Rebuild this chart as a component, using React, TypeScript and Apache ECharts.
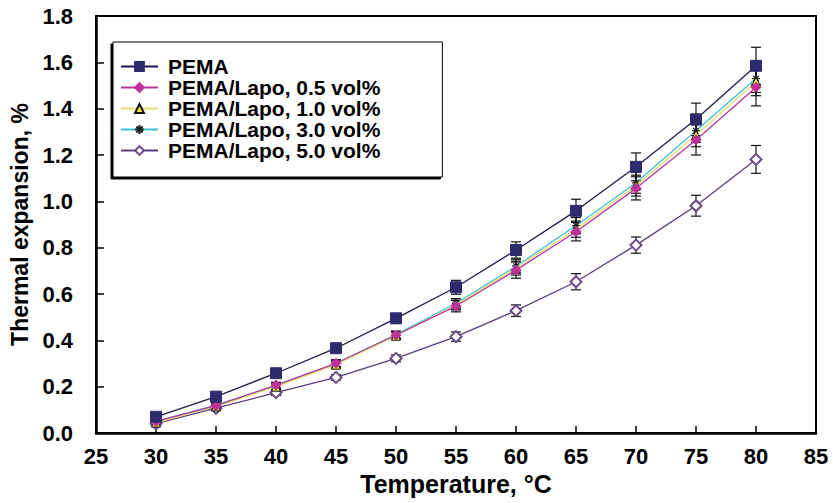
import React, { useEffect, useRef } from "react";
import * as echarts from "echarts";

const temps = [30, 35, 40, 45, 50, 55, 60, 65, 70, 75, 80];

const pema = [0.07, 0.157, 0.258, 0.366, 0.495, 0.629, 0.79, 0.959, 1.149, 1.354, 1.585];
const lapo05 = [0.05, 0.118, 0.207, 0.301, 0.423, 0.548, 0.703, 0.869, 1.056, 1.265, 1.492];
const lapo10 = [0.045, 0.115, 0.2, 0.295, 0.42, 0.552, 0.712, 0.88, 1.068, 1.286, 1.516];
const lapo30 = [0.05, 0.12, 0.205, 0.3, 0.425, 0.56, 0.72, 0.895, 1.08, 1.305, 1.53];
const lapo50 = [0.04, 0.107, 0.174, 0.24, 0.322, 0.416, 0.528, 0.653, 0.811, 0.981, 1.181];

const errPema = [0.01, 0.012, 0.015, 0.015, 0.02, 0.03, 0.035, 0.05, 0.06, 0.07, 0.08];
const err05 = [0.01, 0.01, 0.012, 0.015, 0.015, 0.025, 0.035, 0.04, 0.05, 0.065, 0.08];
const err10 = [0.008, 0.01, 0.012, 0.015, 0.015, 0.02, 0.03, 0.035, 0.045, 0.05, 0.06];
const err30 = [0.008, 0.01, 0.012, 0.015, 0.015, 0.02, 0.03, 0.035, 0.045, 0.05, 0.06];
const err50 = [0.008, 0.01, 0.012, 0.012, 0.015, 0.02, 0.025, 0.035, 0.035, 0.045, 0.06];

const seriesNames = [
  "PEMA",
  "PEMA/Lapo, 0.5 vol%",
  "PEMA/Lapo, 1.0 vol%",
  "PEMA/Lapo, 3.0 vol%",
  "PEMA/Lapo, 5.0 vol%",
];

const xTicks = [25, 85, 5];
const yTicks = [0, 1.8, 0.2];

const FONT = "'Liberation Sans', Arial, Helvetica, sans-serif";
const ASTERISK = "path://M5,0L5,10M0,5L10,5M1.5,1.5L8.5,8.5M8.5,1.5L1.5,8.5";

export default function App() {
  const ref = useRef<HTMLDivElement>(null);
  useEffect(() => {
    if (!ref.current) return;
    const chart = echarts.init(ref.current, null, { renderer: "svg" });

    const values = [pema, lapo05, lapo10, lapo30, lapo50];
    const errs = [errPema, err05, err10, err30, err50];
    const lineColors = ["#1d1a48", "#b4379f", "#e6df6a", "#3fc3d3", "#5b3f7d"];
    const symbols = ["rect", "diamond", "triangle", ASTERISK, "emptyDiamond"];
    const symbolSizes = [11, 10, 9, 8, 11];
    const itemStyles: any[] = [
      { color: "#2e2b6d", borderColor: "#2e2b6d", borderWidth: 1 },
      { color: "#c0309a", borderColor: "#c0309a", borderWidth: 1 },
      { color: "#f2e43a", borderColor: "#111", borderWidth: 1 },
      { color: "#3fc3d3", borderColor: "#222", borderWidth: 1.3 },
      { color: "#6a4a8a", borderColor: "#6a4a8a", borderWidth: 1.2 },
    ];

    const lineSeries = values.map((vals, i) => ({
      type: "line",
      name: seriesNames[i],
      data: temps.map((t, j) => [t, vals[j]]),
      symbol: symbols[i],
      symbolSize: symbolSizes[i],
      showAllSymbol: true,
      lineStyle: { color: lineColors[i], width: 1.3 },
      itemStyle: itemStyles[i],
      z: 3 + (4 - i) * 0.1,
    }));

    const errorData: number[][] = [];
    values.forEach((vals, i) => {
      temps.forEach((t, j) => {
        errorData.push([t, vals[j] - errs[i][j], vals[j] + errs[i][j]]);
      });
    });

    const errorSeries = {
      type: "custom",
      name: "error",
      data: errorData,
      encode: { x: 0, y: [1, 2] },
      z: 2,
      silent: true,
      renderItem: (params: any, api: any) => {
        const x = api.value(0);
        const lo = api.coord([x, api.value(1)]);
        const hi = api.coord([x, api.value(2)]);
        const hw = 5;
        const style = { stroke: "#111", lineWidth: 1.2 };
        return {
          type: "group",
          children: [
            { type: "line", shape: { x1: lo[0], y1: lo[1], x2: hi[0], y2: hi[1] }, style },
            { type: "line", shape: { x1: lo[0] - hw, y1: lo[1], x2: lo[0] + hw, y2: lo[1] }, style },
            { type: "line", shape: { x1: hi[0] - hw, y1: hi[1], x2: hi[0] + hw, y2: hi[1] }, style },
          ],
        };
      },
    };

    chart.setOption({
      animation: false,
      backgroundColor: "#fff",
      grid: {
        left: 96,
        right: 17,
        top: 16,
        bottom: 70,
        show: true,
        borderColor: "#000",
        borderWidth: 2,
        backgroundColor: "transparent",
      },
      legend: {
        data: seriesNames,
        orient: "vertical",
        left: 113,
        top: 42,
        padding: [14, 62, 16, 7],
        itemGap: 0,
        itemWidth: 37,
        itemHeight: 11,
        borderColor: "#000",
        borderWidth: 1,
        backgroundColor: "#fff",
        shadowColor: "#000",
        shadowOffsetX: -2,
        shadowOffsetY: 2,
        shadowBlur: 0,
        textStyle: {
          fontFamily: FONT,
          fontWeight: "bold",
          fontSize: 21,
          color: "#000",
          lineHeight: 21,
          padding: [0, 0, 0, 5],
        },
      },
      xAxis: {
        type: "value",
        min: xTicks[0],
        max: xTicks[1],
        interval: xTicks[2],
        name: "Temperature, °C",
        nameLocation: "middle",
        nameGap: 34,
        nameTextStyle: { fontFamily: FONT, fontWeight: "bold", fontSize: 25, color: "#000" },
        axisLine: { lineStyle: { color: "#000", width: 2.5 } },
        axisTick: { inside: true, length: 7, lineStyle: { color: "#000", width: 1.5 } },
        axisLabel: { fontFamily: FONT, fontWeight: "bold", fontSize: 22, color: "#000", margin: 12 },
        splitLine: { show: false },
      },
      yAxis: {
        type: "value",
        min: yTicks[0],
        max: yTicks[1],
        interval: yTicks[2],
        name: "Thermal expansion, %",
        nameLocation: "middle",
        nameGap: 62,
        nameTextStyle: { fontFamily: FONT, fontWeight: "bold", fontSize: 23, color: "#000" },
        axisLine: { lineStyle: { color: "#000", width: 2.5 } },
        axisTick: { inside: true, length: 8, lineStyle: { color: "#000", width: 1.5 } },
        axisLabel: {
          fontFamily: FONT,
          fontWeight: "bold",
          fontSize: 22,
          color: "#000",
          margin: 23,
          formatter: (v: number) => v.toFixed(1),
        },
        splitLine: { show: false },
      },
      series: [errorSeries, ...lineSeries],
    });

    return () => chart.dispose();
  }, []);

  return (
    <div
      ref={ref}
      style={{ position: "fixed", left: 0, top: 0, width: 833, height: 503 }}
    />
  );
}
